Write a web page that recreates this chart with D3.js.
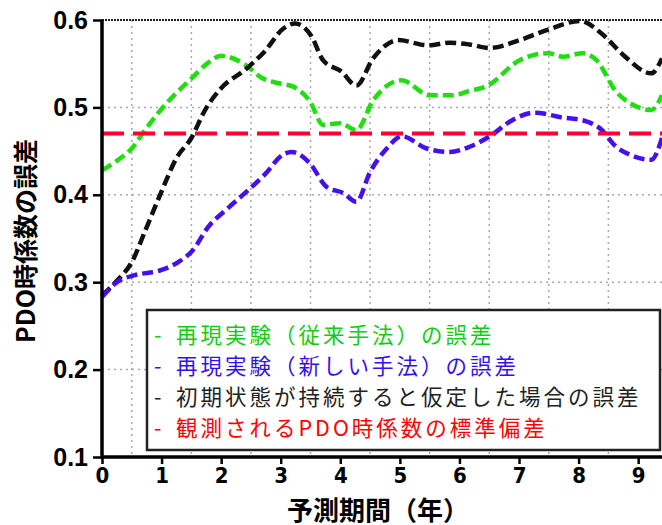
<html>
<head>
<meta charset="utf-8">
<style>
body { margin: 0; padding: 0; background: #fff; }
svg { display: block; }
.grid line { stroke: #aaa; stroke-width: 1.5; stroke-dasharray: 2,4; }
.tick-y text { font-family: "Liberation Sans", Arial, sans-serif; font-weight: bold; font-size: 25px; }
.tick-x text { font-family: "Liberation Sans Narrow", "DejaVu Sans", sans-serif; font-weight: bold; font-size: 22px; font-stretch: condensed; }
.title { font-family: "Noto Sans CJK JP", sans-serif; font-weight: bold; }
.legend text { font-family: "Noto Sans CJK JP", sans-serif; font-size: 21.5px; letter-spacing: 3px; }
</style>
<script src="https://cdnjs.cloudflare.com/ajax/libs/d3/7.8.5/d3.min.js"></script>
</head>
<body>
<svg width="662" height="525"></svg>
<script>
// lead time (years), error values
var conventional = [[0,0.428],[0.27,0.440],[0.5,0.453],[0.72,0.474],[1.06,0.503],[1.5,0.533],[1.78,0.551],[2.0,0.559],
  [2.4,0.549],[2.68,0.534],[3.0,0.527],[3.2,0.524],[3.49,0.507],[3.71,0.480],[4.0,0.482],[4.27,0.474],[4.55,0.508],
  [5.03,0.531],[5.5,0.514],[5.9,0.514],[6.17,0.519],[6.45,0.524],[7.01,0.554],[7.49,0.562],[7.74,0.558],[8.07,0.562],
  [8.3,0.554],[8.63,0.518],[8.86,0.505],[9.22,0.497],[9.4,0.514]]

var newMethod = [[0,0.283],[0.27,0.301],[0.55,0.308],[1.0,0.314],[1.28,0.323],[1.53,0.337],[1.78,0.363],[2.12,0.385],
  [2.45,0.405],[2.73,0.423],[3.04,0.446],[3.18,0.449],[3.49,0.436],[3.77,0.409],[4.05,0.402],[4.27,0.392],[4.5,0.426],
  [4.78,0.453],[5.03,0.467],[5.45,0.453],[5.84,0.449],[6.17,0.455],[6.51,0.467],[6.9,0.486],[7.27,0.494],[7.68,0.489],
  [8.13,0.484],[8.36,0.476],[8.63,0.455],[8.86,0.446],[9.22,0.440],[9.4,0.465]]

var persistence = [[0,0.285],[0.27,0.303],[0.5,0.323],[0.72,0.358],[1.0,0.404],[1.25,0.442],[1.5,0.465],[1.73,0.497],
  [2.0,0.522],[2.4,0.543],[2.73,0.564],[3.04,0.590],[3.24,0.596],[3.52,0.581],[3.71,0.554],[4.02,0.541],[4.27,0.525],
  [4.55,0.556],[4.97,0.577],[5.48,0.571],[5.84,0.574],[6.17,0.572],[6.51,0.568],[7.01,0.577],[7.49,0.589],[8.02,0.599],
  [8.41,0.583],[8.75,0.560],[9.22,0.539],[9.4,0.556]]

var obsStd = 0.47

var xTicks = [0,1,2,3,4,5,6,7,8,9]
var xGrid = [0.5,1.5,2.5,3.5,4.5,5.5,6.5,7.5,8.5]
var yTicks = [0.1,0.2,0.3,0.4,0.5,0.6]

var legendLabels = ['再現実験（従来手法）の誤差', '再現実験（新しい手法）の誤差',
  '初期状態が持続すると仮定した場合の誤差', '観測されるPDO時係数の標準偏差']
var legendColors = ['#11cc11', '#3311ee', '#222', '#ff0000']

var svg = d3.select('svg')
var x = d3.scaleLinear().domain([0, 9.4]).range([102, 662])
var y = d3.scaleLinear().domain([0.1, 0.6]).range([457, 20])

// grid
var grid = svg.append('g').attr('class', 'grid')
grid.selectAll('.gx').data(xGrid).join('line')
  .attr('x1', d => x(d)).attr('x2', d => x(d)).attr('y1', y(0.6)).attr('y2', y(0.1))
grid.selectAll('.gy').data(yTicks.slice(1, 5)).join('line')
  .attr('x1', x(0)).attr('x2', 662).attr('y1', d => y(d)).attr('y2', d => y(d))
svg.append('line').attr('x1', x(0)).attr('x2', 662).attr('y1', y(0.6)).attr('y2', y(0.6))
  .attr('stroke', '#222').attr('stroke-width', 2).attr('stroke-dasharray', '2,1')

// lines
var line = d3.line().x(d => x(d[0])).y(d => y(d[1])).curve(d3.curveMonotoneX)
var series = [
  {data: conventional, color: '#22dd11'},
  {data: persistence, color: '#111'},
  {data: newMethod, color: '#4411ee'}
]
svg.append('g').selectAll('path').data(series).join('path')
  .attr('d', d => line(d.data))
  .attr('fill', 'none')
  .attr('stroke', d => d.color)
  .attr('stroke-width', 4.5)
  .attr('stroke-dasharray', '11,5')

svg.append('line')
  .attr('x1', x(0)).attr('x2', 662).attr('y1', y(obsStd)).attr('y2', y(obsStd))
  .attr('stroke', '#ff0033').attr('stroke-width', 4).attr('stroke-dasharray', '22,9')

// axes
svg.append('g').attr('class', 'tick-y').attr('transform', 'translate(' + x(0) + ',0)')
  .call(d3.axisLeft(y).tickValues(yTicks).tickFormat(d3.format('.1f')).tickSize(9).tickPadding(5))
svg.append('g').attr('class', 'tick-x').attr('transform', 'translate(0,' + y(0.1) + ')')
  .call(d3.axisBottom(x).tickValues(xTicks).tickFormat(d3.format('d')).tickSize(7).tickPadding(3))
svg.selectAll('.domain').remove()
svg.selectAll('.tick line').attr('stroke', '#000').attr('stroke-width', 2.5)
svg.selectAll('.tick text').attr('fill', '#000')
svg.append('line').attr('x1', x(0)).attr('x2', x(0)).attr('y1', y(0.6)).attr('y2', y(0.1) + 2)
  .attr('stroke', '#000').attr('stroke-width', 3.5)
svg.append('line').attr('x1', x(0)).attr('x2', 662).attr('y1', y(0.1)).attr('y2', y(0.1))
  .attr('stroke', '#000').attr('stroke-width', 3.5)

// titles
svg.append('text').attr('class', 'title')
  .attr('transform', 'translate(24,241) rotate(-90)')
  .attr('text-anchor', 'middle').attr('dominant-baseline', 'central')
  .attr('font-size', 25).text('PDO時係数の誤差')
svg.append('text').attr('class', 'title')
  .attr('x', 378).attr('y', 508)
  .attr('text-anchor', 'middle').attr('dominant-baseline', 'central')
  .attr('font-size', 26).text('予測期間（年）')

// legend
var lg = svg.append('g').attr('class', 'legend')
lg.append('rect').attr('x', 147).attr('y', 310).attr('width', 513).attr('height', 140)
  .attr('fill', '#fff').attr('stroke', '#222').attr('stroke-width', 2.5)
var rows = lg.selectAll('g').data(legendLabels).join('g')
  .attr('transform', (d, i) => 'translate(0,' + (333 + i * 31.3) + ')')
rows.append('text').attr('x', 154).attr('dominant-baseline', 'central')
  .attr('fill', (d, i) => legendColors[i]).text('-')
rows.append('text').attr('x', 176).attr('dominant-baseline', 'central')
  .attr('fill', (d, i) => legendColors[i]).text(d => d)
</script>
</body>
</html>
